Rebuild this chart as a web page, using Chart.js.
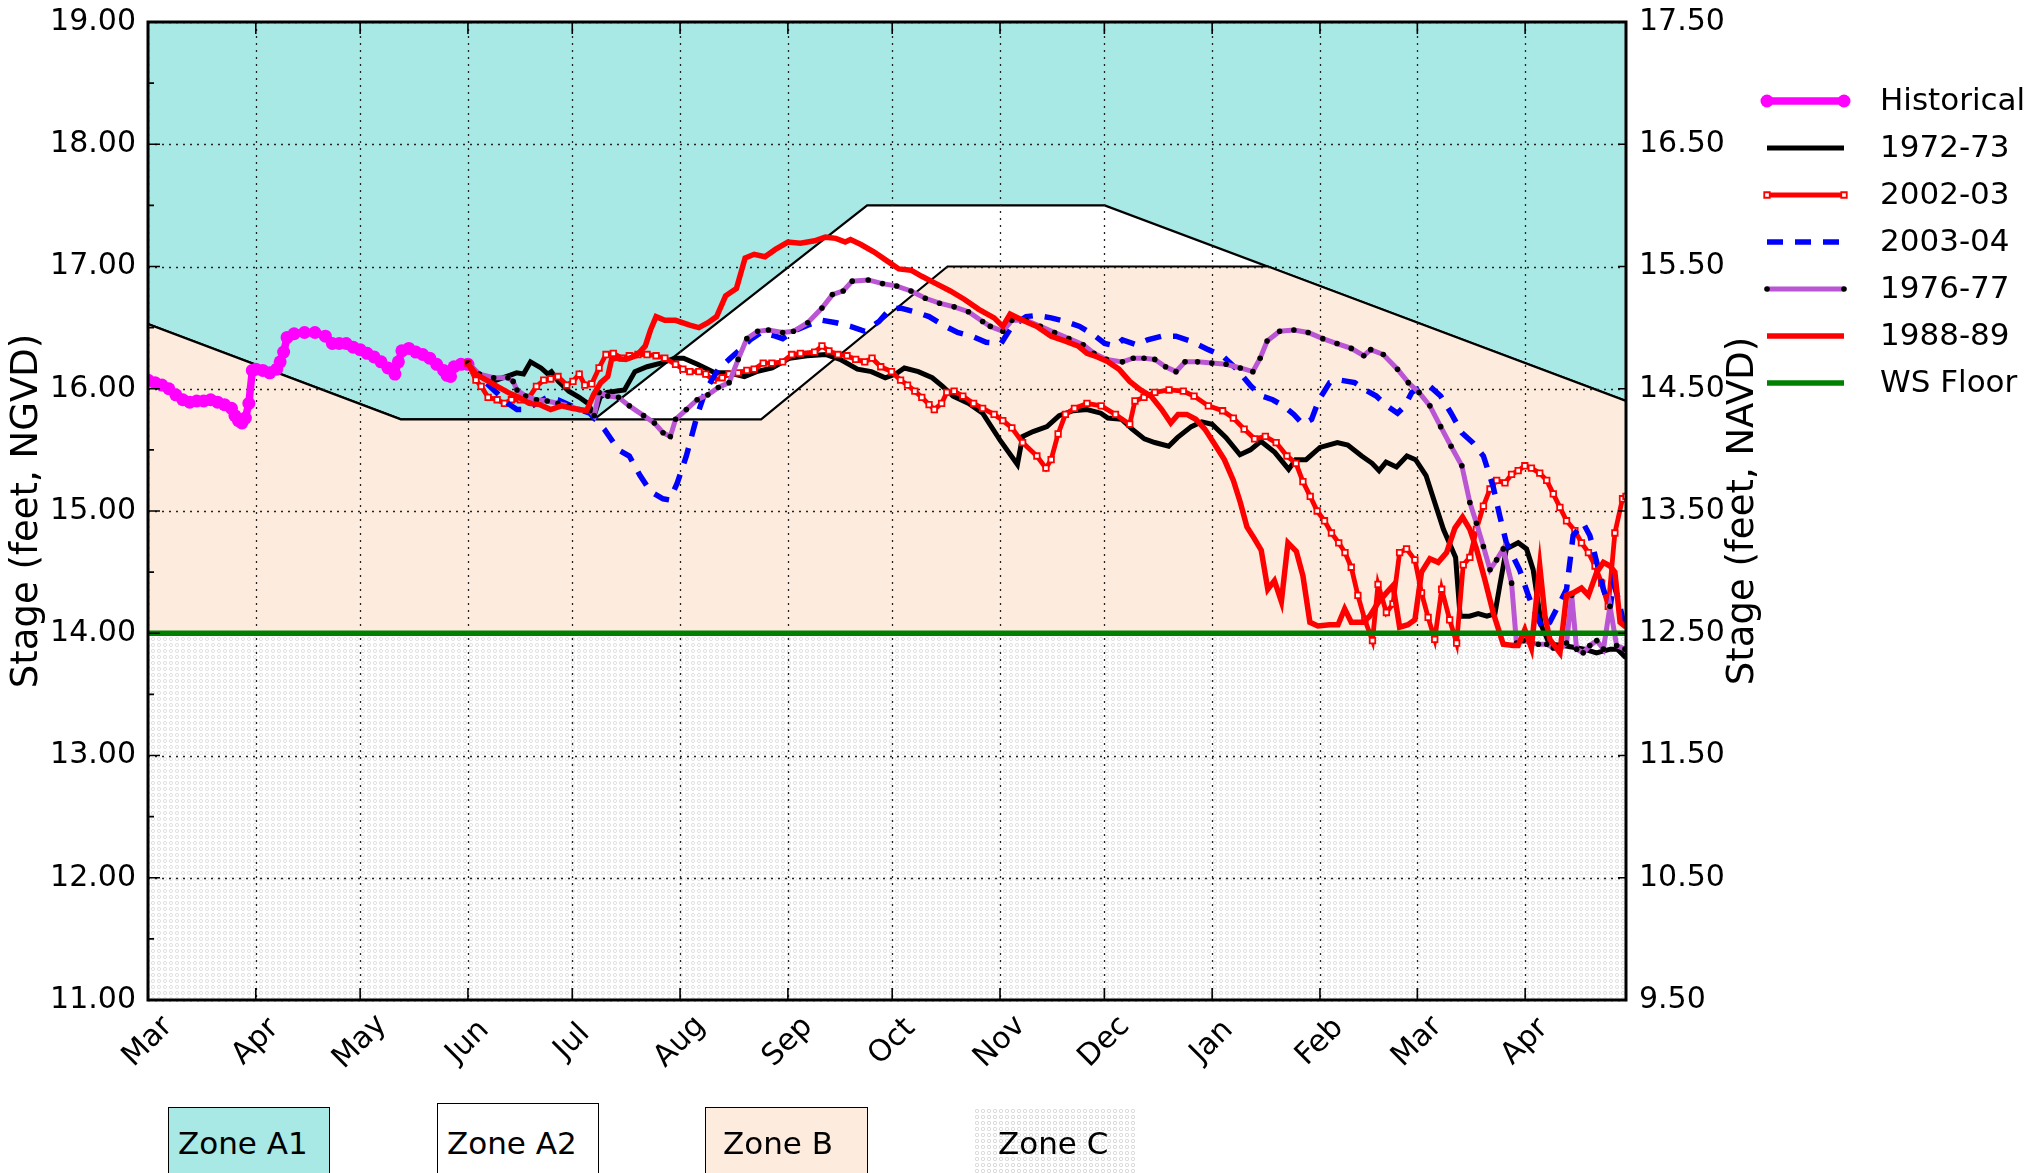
<!DOCTYPE html>
<html>
<head>
<meta charset="utf-8">
<title>Stage</title>
<script src="https://cdn.jsdelivr.net/npm/chart.js@4.4.0/dist/chart.umd.min.js"></script>
<style>
  body { margin: 0; background: #fff; }
  #wrap { position: relative; width: 2036px; height: 1173px; overflow: hidden; background: #fff; }
  #myCanvas { position: absolute; left: 0; top: 0; }
  .zone { position: absolute; box-sizing: border-box; height: 120px; border: 1.5px solid #000;
          font-family: "DejaVu Sans", sans-serif; font-size: 31px; color: #000; }
  .zone span { position: absolute; top: 16px; line-height: 38px; white-space: nowrap; }
</style>
</head>
<body>
<div id="wrap">
  <canvas id="myCanvas" width="2036" height="1173"></canvas>
  <div class="zone" style="left:168px;top:1107px;width:162px;background:#a8e8e5"><span style="left:9px">Zone A1</span></div>
  <div class="zone" style="left:437px;top:1103px;width:162px;background:#fff"><span style="left:9px;top:20px">Zone A2</span></div>
  <div class="zone" style="left:705px;top:1107px;width:163px;background:#fdecdd"><span style="left:17px">Zone B</span></div>
  <div class="zone" style="left:973px;top:1107px;width:164px;border-color:transparent;background-color:#fff;
       background-image:radial-gradient(circle at 3px 3px, transparent 1.1px, #dcdcdc 1.3px, #dcdcdc 2px, transparent 2.2px);
       background-size:6px 6px"><span style="left:24px">Zone C</span></div>
</div>
<script>
'use strict';

// x values are days counted from 1 March
const monthDays = [0, 31, 61, 92, 122, 153, 184, 214, 245, 275, 306, 337, 365, 396];
const monthLabels = ['Mar', 'Apr', 'May', 'Jun', 'Jul', 'Aug', 'Sep', 'Oct', 'Nov', 'Dec', 'Jan', 'Feb', 'Mar', 'Apr'];
const lastDay = 425;

const ngvdTicks = [11, 12, 13, 14, 15, 16, 17, 18, 19];
const NAVD_OFFSET = 1.5;
const navdTicks = ngvdTicks.map(v => v - NAVD_OFFSET);

// regulation schedule lines
const zoneA1Days = [0, 72.7, 128.3, 206.8, 275.1, 425];
const zoneA1Vals = [16.53, 15.75, 15.75, 17.5, 17.5, 15.9];
const zoneBDays = [0, 72.7, 176.3, 229.9, 322.1, 425];
const zoneBVals = [16.53, 15.75, 15.75, 17.0, 17.0, 15.9];
const floorDays = [0, 425];
const floorVals = [14.0, 14.0];

const histDays = [0,2,4,6,8,10,12,14,16,18,20,22,24,25,26,27,28,29,30,31,33,35,37,38,39,40,42,45,48,51,
  53,55,57,59,61,63,65,67,69,71,72,73,75,77,79,81,83,85,86,87,88,90,92];
const histVals = [16.07,16.05,16.03,16.0,15.95,15.91,15.89,15.90,15.90,15.91,15.89,15.87,15.84,15.78,15.74,15.72,15.76,15.88,16.15,16.16,
  16.15,16.13,16.16,16.22,16.3,16.42,16.45,16.46,16.46,16.43,16.37,16.37,16.37,16.34,16.32,16.29,16.26,16.22,16.17,16.12,
  16.22,16.31,16.33,16.3,16.28,16.25,16.2,16.15,16.11,16.1,16.18,16.2,16.2];

const y7273Days = [92,95,99,103,106,108,110,113,115,116,118,121,124,126.5,128.3,130,132,137,140,143.5,
  147.5,151.5,154,158,163,167,171.5,175,179.5,184.5,189.5,195,199,204,208,212,215,217.5,221.5,225.5,
  228.5,231.5,236,240,245,250,251.5,254.5,258.5,262,266,270,274,276,280,283,286.5,289.5,293.5,296,
  300,303,306,310,314,317,320,324,328,330,333,337,342,345,349,352,354,356,359,362,
  364.5,367.5,370,372.5,376,377.3,380,382.5,385,387.3,388.7,390.6,394,396.4,398.3,400.7,403,407,411,413,
  416.5,420.5,422.5,425];
const y7273Vals = [16.21,16.12,16.06,16.10,16.13,16.12,16.22,16.17,16.12,16.14,16.06,15.98,15.93,15.88,15.78,15.93,15.97,15.99,16.14,16.18,
  16.21,16.25,16.25,16.20,16.13,16.13,16.10,16.14,16.17,16.25,16.27,16.28,16.24,16.16,16.14,16.09,16.12,16.17,16.14,16.09,
  16.02,15.94,15.88,15.80,15.58,15.38,15.61,15.65,15.69,15.78,15.82,15.83,15.80,15.76,15.75,15.67,15.59,15.56,15.53,15.60,
  15.69,15.73,15.71,15.60,15.46,15.50,15.57,15.48,15.34,15.42,15.42,15.52,15.56,15.54,15.45,15.39,15.33,15.40,15.36,15.45,
  15.42,15.29,15.07,14.85,14.62,14.14,14.14,14.16,14.14,14.16,14.39,14.69,14.74,14.69,14.52,14.06,13.91,13.90,13.88,13.87,
  13.84,13.87,13.87,13.80];

const y0203Days = [92,94.3,95.8,97.8,100.4,102.5,104.5,107.1,109.6,111.7,113.8,115.8,117.9,120.4,122.2,124,125.6,127.6,129.7,131.7,
  133.8,136.3,138.4,140.9,143.5,146.1,148.6,151.7,153.8,155.8,158.4,160.4,162.5,165.1,167.1,169.7,172.2,174.3,176.9,179.4,
  182.5,185.1,187.6,191.7,193.8,195.8,198.4,201,203.5,206.1,208.2,210.7,213.8,216.4,218.4,220.5,222.5,224.6,226.1,228.2,
  229.7,231.8,234.3,237.4,240,243.3,245.8,248.4,251.5,255.6,258.2,259.7,261.7,263.8,266.4,270,274.1,278.2,282.3,283.8,
  286.4,289.5,293.6,297.7,300.8,304.9,309,312.1,315.2,318.2,321.3,324.4,327.5,330.1,332.1,334.2,336.2,338.3,340.3,342.4,
  344.2,346,347.9,349.9,352.1,353.7,356.1,358,359.9,361.9,364.3,366.2,368.1,370,372,374.3,376.3,378.2,380.1,382,
  384,385.9,387.8,390.2,392.1,394,395.9,397.8,400.2,402.2,404.1,406,407.9,410.3,412.2,414.2,416.1,418,419.9,421.8,
  424,425];
const y0203Vals = [16.21,16.07,16.02,15.93,15.91,15.88,15.91,15.91,15.93,16.02,16.07,16.08,16.10,16.03,16.06,16.12,16.03,16.04,16.17,16.28,
  16.29,16.25,16.27,16.28,16.28,16.27,16.25,16.20,16.16,16.14,16.14,16.12,16.07,16.09,16.12,16.13,16.15,16.16,16.21,16.21,
  16.22,16.28,16.29,16.30,16.35,16.31,16.28,16.27,16.24,16.22,16.25,16.18,16.14,16.07,16.03,15.98,15.93,15.87,15.83,15.88,
  15.97,15.98,15.94,15.88,15.84,15.79,15.74,15.68,15.56,15.45,15.35,15.42,15.63,15.79,15.84,15.88,15.86,15.79,15.71,15.90,
  15.93,15.97,15.99,15.98,15.94,15.86,15.82,15.76,15.67,15.59,15.61,15.56,15.45,15.39,15.24,15.12,15.00,14.92,14.82,14.74,
  14.66,14.54,14.31,14.11,13.94,14.40,14.17,14.24,14.66,14.69,14.60,14.33,14.13,13.95,14.36,14.11,13.92,14.56,14.62,14.85,
  15.04,15.18,15.25,15.23,15.30,15.33,15.37,15.35,15.31,15.25,15.14,15.03,14.92,14.84,14.74,14.66,14.55,14.41,14.22,14.82,
  15.10,15.12];

const y0304Days = [92,95.3,99.4,103.5,106.1,108.6,111.7,114.8,117.9,121,124,127.1,128.3,131.2,135.3,138.4,141.5,144.5,148.1,150,
  152.2,154.8,157.9,160.4,164,167.1,170.2,173.2,176.3,180.4,182.5,185.6,189.7,193.8,197.9,202,206.1,210.2,213.3,216.4,
  220.5,224.6,228.7,232.8,236.9,241,245.3,248.4,252.5,255.6,259.7,263.8,267.9,272,275.1,278.2,280.2,284.3,287.4,291.5,
  295.6,299.8,304.9,309,313.1,317.2,320.3,323.4,326.5,329.5,332.1,334.6,336.7,339.8,342.9,347,350.1,353.2,356.2,359.3,
  361.4,363.4,366.5,368.6,371.7,374.7,377.8,380.9,384,386.8,388.7,390.6,394.4,396.9,399.3,401.2,403.1,406,407.9,409.8,
  412.7,414.6,416.6,418.5,420.4,421.4,422.8,424.7];
const y0304Vals = [16.21,16.10,15.99,15.88,15.83,15.83,15.88,15.93,15.91,15.87,15.83,15.80,15.76,15.67,15.50,15.45,15.29,15.16,15.10,15.09,
  15.23,15.45,15.78,15.99,16.16,16.24,16.32,16.40,16.46,16.43,16.41,16.47,16.52,16.56,16.54,16.51,16.47,16.55,16.65,16.66,
  16.63,16.59,16.52,16.46,16.43,16.38,16.37,16.51,16.59,16.60,16.58,16.55,16.51,16.44,16.37,16.35,16.40,16.36,16.40,16.43,
  16.43,16.39,16.32,16.27,16.16,16.02,15.94,15.91,15.86,15.79,15.71,15.75,15.91,16.05,16.07,16.05,15.99,15.94,15.86,15.80,
  15.86,15.97,16.02,16.02,15.94,15.80,15.64,15.56,15.45,15.20,14.96,14.74,14.52,14.31,14.14,14.03,14.09,14.25,14.36,14.80,
  14.90,14.80,14.58,14.36,14.20,14.41,14.28,14.03];

const y7677Days = [92,95.3,99.4,103.5,105,106.1,108.6,111.7,114.8,117.9,121,124,127.1,128.3,129.7,132.2,135.3,138.4,142.5,145.6,
  148.1,150.2,151.7,154.8,157.9,161,164,167.1,169.7,172.2,175.3,178.4,182.5,185.6,189.7,193.8,196.8,199.9,202.5,207.1,
  211.2,215.3,219.4,223.5,227.6,231.8,235.9,240,242.2,245.8,248.4,252.5,256.6,260.7,264.8,268.9,272,275.6,280.2,283.3,
  286.4,289.5,292.6,295.6,298.2,301.8,305.9,310,314.1,317.7,319.8,321.8,325.4,329.5,333.6,337.8,341.9,346,349.6,351.6,
  355.2,359.3,362.4,365.5,368.6,371.7,374.7,377.8,380.1,382,384,385.9,387.8,389.7,392.1,393.5,395.5,397.9,399.8,402.2,
  404.1,406,407.9,409.4,410.8,412.7,414.6,416.6,418.5,420.4,422.3,424.7];
const y7677Vals = [16.21,16.12,16.09,16.09,16.06,15.99,15.94,15.91,15.90,15.88,15.86,15.83,15.82,15.78,15.97,15.94,15.93,15.86,15.78,15.72,
  15.64,15.61,15.75,15.83,15.91,15.95,16.01,16.05,16.24,16.41,16.47,16.48,16.46,16.47,16.54,16.66,16.77,16.80,16.88,16.89,
  16.86,16.84,16.80,16.74,16.70,16.67,16.63,16.55,16.51,16.47,16.56,16.56,16.51,16.46,16.41,16.36,16.29,16.24,16.22,16.25,
  16.25,16.24,16.18,16.14,16.22,16.22,16.21,16.20,16.17,16.14,16.25,16.39,16.47,16.48,16.46,16.41,16.37,16.33,16.27,16.32,
  16.28,16.16,16.05,15.97,15.86,15.69,15.53,15.37,15.07,14.90,14.71,14.52,14.60,14.69,14.41,13.92,13.94,13.92,13.91,13.91,
  13.88,13.87,13.92,14.31,13.87,13.84,13.90,13.94,13.87,14.22,13.90,13.87];

const y8889Days = [92,94.3,97.3,100.4,103.5,106.6,109.6,112.7,115.8,118.9,121.9,126.1,128.1,130.2,132.2,133.3,134.8,137.4,140.4,143,
  144.5,146.1,148.6,151.7,155.8,158.4,161,163.5,166.1,169.2,171.7,174.3,177.4,180.4,184,187.6,191.7,194.8,197.8,200.5,
  202,205,208.7,212.3,215.9,219.4,222.5,226.6,230.7,234.8,238.9,243.3,245.8,247.9,251.5,255.6,259.7,263.8,267.4,270,
  273,276.1,279.2,282.3,285.4,288.4,291.5,294.1,296.2,298.7,301.3,303.9,306.4,309.5,312.1,314.1,316,318,320.1,322,
  323.9,325.9,327.8,330.2,332.1,334.1,336.4,339.8,342.2,344.1,346,349.4,351.3,353.7,356.1,358,359.9,362.3,364.3,366.2,
  368.6,371,373.4,375.8,378,380.1,382,384.4,386.8,389.7,392.6,394,395.9,397.8,400.2,401.7,403.1,406,407.9,409.8,
  412.2,414.2,416.6,418.5,420.4,421.8,423.3,425];
const y8889Vals = [16.21,16.12,16.07,16.02,15.97,15.93,15.88,15.87,15.83,15.86,15.84,15.82,15.95,16.05,16.10,16.24,16.25,16.24,16.27,16.35,
  16.48,16.59,16.56,16.56,16.52,16.50,16.54,16.59,16.76,16.82,17.07,17.10,17.08,17.14,17.20,17.19,17.21,17.24,17.23,17.20,
  17.22,17.18,17.12,17.05,16.98,16.97,16.92,16.86,16.80,16.73,16.65,16.58,16.51,16.61,16.56,16.51,16.43,16.39,16.35,16.29,
  16.26,16.22,16.16,16.06,15.99,15.94,15.83,15.72,15.79,15.79,15.75,15.67,15.56,15.42,15.25,15.07,14.87,14.78,14.68,14.36,
  14.43,14.26,14.74,14.67,14.47,14.09,14.06,14.07,14.07,14.20,14.09,14.09,14.14,14.25,14.33,14.39,14.05,14.07,14.11,14.50,
  14.61,14.58,14.66,14.86,14.95,14.85,14.69,14.44,14.17,13.91,13.90,13.90,14.03,13.88,14.55,14.14,13.95,13.84,14.31,14.33,
  14.37,14.31,14.50,14.58,14.55,14.50,14.09,14.05];

const FONT = '"DejaVu Sans", sans-serif';
const CYAN = '#a8e8e5';
const PEACH = '#fdecdd';

function pts(days, vals) {
  return days.map((d, i) => ({ x: d, y: vals[i] }));
}

function makeRings() {
  let c = document.createElement('canvas');
  c.width = 6; c.height = 6;
  let g = c.getContext('2d');
  g.fillStyle = '#fff';
  g.fillRect(0, 0, 6, 6);
  g.strokeStyle = '#dcdcdc';
  g.lineWidth = 0.9;
  g.beginPath();
  g.arc(3, 3, 1.6, 0, Math.PI * 2);
  g.stroke();
  return g.createPattern(c, 'repeat');
}

function drawGrid(chart) {
  const ctx = chart.ctx, a = chart.chartArea;
  const xs = chart.scales.x, ys = chart.scales.y;
  ctx.save();
  ctx.strokeStyle = '#222';
  ctx.lineWidth = 1.3;
  ctx.setLineDash([2, 5]);
  ctx.beginPath();
  for (let d of monthDays) {
    let px = Math.round(xs.getPixelForValue(d)) + 0.5;
    ctx.moveTo(px, a.top);
    ctx.lineTo(px, a.bottom);
  }
  for (let v of ngvdTicks) {
    let py = Math.round(ys.getPixelForValue(v)) + 0.5;
    ctx.moveTo(a.left, py);
    ctx.lineTo(a.right, py);
  }
  ctx.stroke();
  ctx.restore();
}

function drawFrame(chart) {
  const ctx = chart.ctx, a = chart.chartArea;
  const xs = chart.scales.x, ys = chart.scales.y, ys2 = chart.scales.y2;
  ctx.save();
  ctx.strokeStyle = '#000';
  ctx.lineWidth = 1.6;
  ctx.beginPath();
  for (let d of monthDays) {
    let px = xs.getPixelForValue(d);
    ctx.moveTo(px, a.bottom); ctx.lineTo(px, a.bottom - 12);
    ctx.moveTo(px, a.top); ctx.lineTo(px, a.top + 12);
  }
  for (let i = 0; i < ngvdTicks.length; i++) {
    let py = ys.getPixelForValue(ngvdTicks[i]);
    ctx.moveTo(a.left, py); ctx.lineTo(a.left + 12, py);
    if (i < ngvdTicks.length - 1) {
      let pm = ys.getPixelForValue((ngvdTicks[i] + ngvdTicks[i + 1]) / 2);
      ctx.moveTo(a.left, pm); ctx.lineTo(a.left + 6, pm);
    }
  }
  for (let v of navdTicks) {
    let py = ys2.getPixelForValue(v);
    ctx.moveTo(a.right, py); ctx.lineTo(a.right - 8, py);
  }
  ctx.stroke();
  ctx.lineWidth = 3;
  ctx.strokeRect(a.left, a.top, a.right - a.left, a.bottom - a.top);
  ctx.restore();
}

function drawMonthLabels(chart) {
  const ctx = chart.ctx, a = chart.chartArea, xs = chart.scales.x;
  ctx.save();
  ctx.fillStyle = '#000';
  ctx.font = '30px ' + FONT;
  ctx.textAlign = 'center';
  ctx.textBaseline = 'middle';
  monthDays.forEach((d, i) => {
    ctx.save();
    ctx.translate(xs.getPixelForValue(d), a.bottom + 42);
    ctx.rotate(-Math.PI / 4);
    ctx.fillText(monthLabels[i], 0, 0);
    ctx.restore();
  });
  ctx.restore();
}

function drawTitles(chart) {
  const ctx = chart.ctx, a = chart.chartArea;
  const mid = (a.top + a.bottom) / 2;
  ctx.save();
  ctx.fillStyle = '#000';
  ctx.font = '37px ' + FONT;
  ctx.textAlign = 'center';
  ctx.textBaseline = 'middle';
  [[27, 'Stage (feet, NGVD)'], [1743, 'Stage (feet, NAVD)']].forEach(t => {
    ctx.save();
    ctx.translate(t[0], mid);
    ctx.rotate(-Math.PI / 2);
    ctx.fillText(t[1], 0, 0);
    ctx.restore();
  });
  ctx.restore();
}

function drawMarker(ctx, ds, x, y) {
  let r = ds.pointRadius;
  ctx.fillStyle = ds.pointBackgroundColor;
  ctx.strokeStyle = ds.pointBorderColor;
  ctx.lineWidth = ds.pointBorderWidth || 1;
  ctx.beginPath();
  if (ds.pointStyle === 'rect') {
    let h = r * Math.SQRT1_2;
    ctx.rect(x - h, y - h, 2 * h, 2 * h);
  } else {
    ctx.arc(x, y, r, 0, Math.PI * 2);
  }
  ctx.fill();
  if (ds.pointBorderWidth) ctx.stroke();
}

function drawLegend(chart) {
  const ctx = chart.ctx;
  let row = 0;
  chart.data.datasets.forEach(ds => {
    if (!ds.inLegend) return;
    let y = 101 + row * 47;
    row++;
    let x0 = 1767, x1 = 1844;
    ctx.save();
    ctx.strokeStyle = ds.borderColor;
    ctx.lineWidth = ds.borderWidth;
    ctx.setLineDash(ds.borderDash || []);
    ctx.beginPath();
    ctx.moveTo(x0, y);
    ctx.lineTo(x1, y);
    ctx.stroke();
    ctx.setLineDash([]);
    if (ds.pointRadius) {
      drawMarker(ctx, ds, x0, y);
      drawMarker(ctx, ds, x1, y);
    }
    ctx.fillStyle = '#000';
    ctx.font = '31px ' + FONT;
    ctx.textAlign = 'left';
    ctx.textBaseline = 'middle';
    ctx.fillText(ds.label, 1880, y + 1);
    ctx.restore();
  });
}

const decor = {
  id: 'decor',
  afterDatasetDraw(chart, args) {
    if (chart.data.datasets[args.index].label === 'Zone C') drawGrid(chart);
  },
  afterDraw(chart) {
    drawFrame(chart);
    drawMonthLabels(chart);
    drawTitles(chart);
    drawLegend(chart);
  }
};

function series(label, days, vals, color, width, order, extra) {
  return Object.assign({
    label: label,
    data: pts(days, vals),
    borderColor: color,
    borderWidth: width,
    pointRadius: 0,
    pointBackgroundColor: color,
    pointBorderColor: color,
    pointBorderWidth: 0,
    fill: false,
    order: order,
    inLegend: true
  }, extra || {});
}

// fixed axis sizes so the plot box sits where the original one does
function fixWidth(w) {
  return s => { s.width = w; s.paddingTop = 0; s.paddingBottom = 0; };
}

let myChart = document.getElementById('myCanvas').getContext('2d');

let stageChart = new Chart(myChart, {
  type: 'line',
  data: {
    datasets: [
      series('Historical', histDays, histVals, '#ff00ff', 7.5, 7, { pointRadius: 6.5, pointStyle: 'circle' }),
      series('1972-73', y7273Days, y7273Vals, '#000000', 5, 6),
      series('2002-03', y0203Days, y0203Vals, '#ff0000', 4.8, 5,
        { pointRadius: 3.9, pointStyle: 'rect', pointBackgroundColor: '#ffffff', pointBorderColor: '#ff0000', pointBorderWidth: 1.8 }),
      series('2003-04', y0304Days, y0304Vals, '#0000ff', 5.5, 4, { borderDash: [16, 12] }),
      series('1976-77', y7677Days, y7677Vals, '#ba55d3', 5, 3,
        { pointRadius: 2.8, pointStyle: 'circle', pointBackgroundColor: '#000000', pointBorderColor: '#000000' }),
      series('1988-89', y8889Days, y8889Vals, '#ff0000', 5.5, 2),
      series('WS Floor', floorDays, floorVals, '#008000', 5.5, 1),
      { label: 'Zone A1', data: pts(zoneA1Days, zoneA1Vals), borderColor: '#000', borderWidth: 2.2,
        backgroundColor: CYAN, fill: 'end', pointRadius: 0, order: 10 },
      { label: 'Zone B', data: pts(zoneBDays, zoneBVals), borderColor: '#000', borderWidth: 2.2,
        backgroundColor: PEACH, fill: { value: 14 }, pointRadius: 0, order: 9 },
      { label: 'Zone C', data: pts(floorDays, floorVals), borderColor: 'rgba(0,0,0,0)', borderWidth: 1,
        backgroundColor: makeRings(), fill: 'start', pointRadius: 0, order: 8 }
    ]
  },
  options: {
    responsive: false,
    animation: false,
    events: [],
    elements: { line: { tension: 0 }, point: { hoverRadius: 0 } },
    layout: { padding: { left: 0, right: 270, top: 22, bottom: 0 } },
    plugins: { legend: { display: false }, tooltip: { enabled: false } },
    scales: {
      x: {
        type: 'linear', min: 0, max: lastDay,
        ticks: { display: false },
        grid: { display: false, drawTicks: false },
        border: { display: false },
        afterFit: s => { s.height = 173; s.paddingLeft = 0; s.paddingRight = 0; }
      },
      y: {
        position: 'left', min: 11, max: 19,
        afterBuildTicks: s => { s.ticks = ngvdTicks.map(v => ({ value: v })); },
        ticks: { callback: v => v.toFixed(2), font: { family: FONT, size: 30 }, color: '#000', padding: 12 },
        grid: { display: false, drawTicks: false },
        border: { display: false },
        afterFit: fixWidth(148)
      },
      y2: {
        position: 'right', min: 9.5, max: 17.5,
        afterBuildTicks: s => { s.ticks = navdTicks.map(v => ({ value: v })); },
        ticks: { callback: v => v.toFixed(2), font: { family: FONT, size: 30 }, color: '#000', padding: 13 },
        grid: { display: false, drawTicks: false },
        border: { display: false },
        afterFit: fixWidth(140)
      }
    }
  },
  plugins: [decor]
});
</script>
</body>
</html>
